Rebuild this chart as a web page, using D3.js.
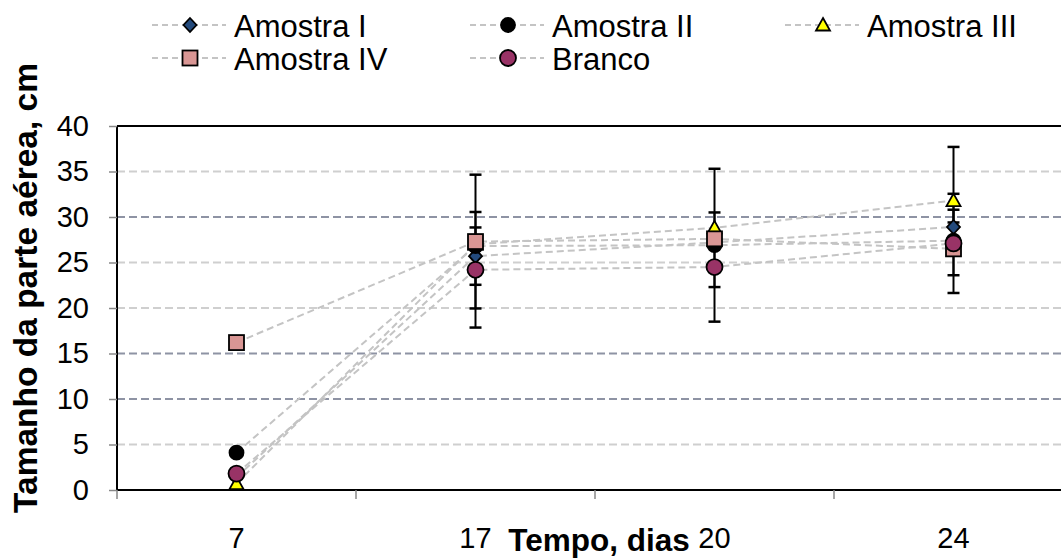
<!DOCTYPE html>
<html lang="pt">
<head>
<meta charset="UTF-8">
<title>Tamanho da parte aérea</title>
<script src="https://d3js.org/d3.v7.min.js"></script>
<style>
  body { margin: 0; background: #fff; }
  text { font-family: "Liberation Sans", Arial, sans-serif; fill: #000; }
</style>
</head>
<body>
<div id="plot"></div>
<script>
// categories (days) and series
var days = ["7", "17", "20", "24"];
var seriesNames = ["Amostra I", "Amostra II", "Amostra III", "Amostra IV", "Branco"];
var amostraI   = [1.4, 25.7, 27.2, 28.9];
var amostraII  = [4.1, 26.8, 26.9, 27.4];
var amostraIII = [0.7, 27.0, 28.8, 31.8];
var amostraIV  = [16.2, 27.3, 27.6, 26.5];
var branco     = [1.8, 24.2, 24.5, 27.1];
// error bar half widths (0 = no bar visible)
var errI   = [0, 3.15, 0, 1.9];
var errII  = [0, 0, 0, 0];
var errIII = [0, 0, 6.5, 5.9];
var errIV  = [0, 7.35, 0, 2.9];
var errB   = [0, 6.35, 6.0, 5.45];
var yTicks = [0, 5, 10, 15, 20, 25, 30, 35, 40];

var width = 1061, height = 558;
var svg = d3.select("#plot").append("svg")
    .attr("width", width)
    .attr("height", height);

var x = d3.scaleBand().domain(days).range([117, 1073]);
var y = d3.scaleLinear().domain([0, 40]).range([490, 126]);

var series = [
  { name: seriesNames[0], values: amostraI,   err: errI,   shape: "diamond",  fill: "#234a7c" },
  { name: seriesNames[1], values: amostraII,  err: errII,  shape: "circle",   fill: "#000000" },
  { name: seriesNames[2], values: amostraIII, err: errIII, shape: "triangle", fill: "#ffff00" },
  { name: seriesNames[3], values: amostraIV,  err: errIV,  shape: "square",   fill: "#d99694" },
  { name: seriesNames[4], values: branco,     err: errB,   shape: "bigcircle",fill: "#993366" }
];

// gridlines
var darkGrid = [10, 15, 30];
svg.append("g").selectAll("line")
  .data(yTicks.filter(function (d) { return d > 0 && d < 40; }))
  .join("line")
  .attr("x1", 117).attr("x2", width)
  .attr("y1", function (d) { return y(d); })
  .attr("y2", function (d) { return y(d); })
  .attr("stroke", function (d) { return darkGrid.indexOf(d) >= 0 ? "#8e93a4" : "#cfcfcf"; })
  .attr("stroke-width", 2)
  .attr("stroke-dasharray", "8,4");

// top frame
svg.append("line").attr("x1", 117).attr("x2", width)
  .attr("y1", y(40)).attr("y2", y(40))
  .attr("stroke", "#000").attr("stroke-width", 2);

// y axis
var yAxis = svg.append("g").attr("transform", "translate(117,0)")
  .call(d3.axisLeft(y).tickValues(yTicks).tickSize(8).tickPadding(20));
yAxis.select(".domain").attr("stroke", "#000").attr("stroke-width", 2)
  .attr("d", "M0," + y(40) + "V" + y(0));
yAxis.selectAll(".tick line").attr("stroke", "#888").attr("stroke-width", 1.5);
yAxis.selectAll("text").style("font-size", "29px");

// x axis
var xAxis = svg.append("g").attr("transform", "translate(0," + y(0) + ")");
xAxis.append("line").attr("x1", 117).attr("x2", width).attr("stroke", "#000").attr("stroke-width", 2);
var bounds = days.map(function (d) { return x(d); }).concat([x.range()[1]]);
xAxis.selectAll(".xt").data(bounds).join("line")
  .attr("x1", function (d) { return d; }).attr("x2", function (d) { return d; })
  .attr("y1", 0).attr("y2", 9)
  .attr("stroke", "#888").attr("stroke-width", 1.5);
xAxis.selectAll(".xl").data(days).join("text")
  .attr("x", function (d) { return x(d) + x.bandwidth() / 2; })
  .attr("y", 58)
  .attr("text-anchor", "middle")
  .style("font-size", "29px")
  .text(function (d) { return d; });

// axis titles
svg.append("text").attr("x", 599).attr("y", 551).attr("text-anchor", "middle")
  .style("font-size", "31.5px").style("font-weight", "bold").text("Tempo, dias");
svg.append("text").attr("transform", "translate(37,288) rotate(-90)")
  .attr("text-anchor", "middle")
  .style("font-size", "33.5px").style("font-weight", "bold").text("Tamanho da parte aérea, cm");

var cx = function (i) { return x(days[i]) + x.bandwidth() / 2; };

// connecting lines
var line = d3.line().x(function (d, i) { return cx(i); }).y(function (d) { return y(d); });
svg.append("g").selectAll("path").data(series).join("path")
  .attr("d", function (s) { return line(s.values); })
  .attr("fill", "none")
  .attr("stroke", "#c4c4c4")
  .attr("stroke-width", 2)
  .attr("stroke-dasharray", "7,4");

// error bars
var eb = svg.append("g");
series.forEach(function (s) {
  s.values.forEach(function (v, i) {
    var e = s.err[i];
    if (!e) return;
    var xx = cx(i);
    eb.append("line").attr("x1", xx).attr("x2", xx).attr("y1", y(v + e)).attr("y2", y(v - e))
      .attr("stroke", "#000").attr("stroke-width", 2);
    [v + e, v - e].forEach(function (c) {
      eb.append("line").attr("x1", xx - 6).attr("x2", xx + 6).attr("y1", y(c)).attr("y2", y(c))
        .attr("stroke", "#000").attr("stroke-width", 2.5);
    });
  });
});

function drawMarker(g, shape, fill, px, py) {
  var m;
  if (shape === "diamond") {
    m = g.append("path").attr("d", "M0,-7L6.5,0L0,7L-6.5,0Z");
  } else if (shape === "circle") {
    m = g.append("circle").attr("r", 7);
  } else if (shape === "triangle") {
    m = g.append("path").attr("d", "M0,-7L7,5.5L-7,5.5Z");
  } else if (shape === "square") {
    m = g.append("rect").attr("x", -7.5).attr("y", -7.5).attr("width", 15).attr("height", 15);
  } else {
    m = g.append("circle").attr("r", 8);
  }
  m.attr("transform", "translate(" + px + "," + py + ")")
    .attr("fill", fill).attr("stroke", "#000").attr("stroke-width", 1.8);
}

// markers
var mk = svg.append("g");
series.forEach(function (s) {
  s.values.forEach(function (v, i) { drawMarker(mk, s.shape, s.fill, cx(i), y(v)); });
});

// legend
var legPos = [[190, 25], [508, 25], [823, 25], [190, 58], [508, 58]];
var lg = svg.append("g");
series.forEach(function (s, k) {
  var p = legPos[k];
  lg.append("line").attr("x1", p[0] - 38).attr("x2", p[0] + 36)
    .attr("y1", p[1]).attr("y2", p[1])
    .attr("stroke", "#c4c4c4").attr("stroke-width", 2).attr("stroke-dasharray", "6,4");
  drawMarker(lg, s.shape, s.fill, p[0], p[1]);
  lg.append("text").attr("x", p[0] + 44).attr("y", p[1] + 12)
    .style("font-size", "31px").text(s.name);
});
</script>
</body>
</html>
